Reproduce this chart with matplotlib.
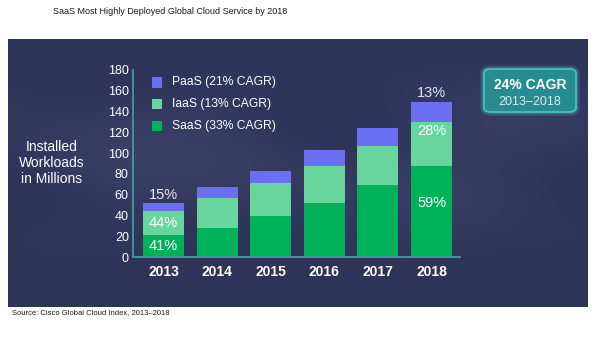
import numpy as np
import matplotlib.pyplot as plt
from matplotlib.patches import Rectangle, FancyBboxPatch

plt.rcParams['font.family'] = ['Liberation Sans', 'DejaVu Sans']

# Installed workloads (millions) per cloud service type
years = ['2013', '2014', '2015', '2016', '2017', '2018']
saas = [21.2, 28, 39, 52, 69, 88]
iaas = [22.8, 29, 32, 36, 38, 42]
paas = [7.8, 10, 12, 15, 17, 19.5]
series_names = ['SaaS (33% CAGR)', 'IaaS (13% CAGR)', 'PaaS (21% CAGR)']
colors = ['#00b159', '#68d69c', '#6b6ff2']
yticks = [0, 20, 40, 60, 80, 100, 120, 140, 160, 180]

W, H = 602, 346
fig = plt.figure(figsize=(W / 100, H / 100), dpi=100)
fig.patch.set_facecolor('white')

# dark panel behind the chart
panel = fig.add_axes([8 / W, 1 - 307 / H, 580 / W, 268 / H])
panel.set_xlim(0, 1)
panel.set_ylim(0, 1)
panel.axis('off')
gx, gy = np.meshgrid(np.linspace(0, 1, 300), np.linspace(0, 1, 150))
haze = (0.5 + 0.5 * np.sin(gx * 9 + gy * 4) * np.cos(gy * 7 - gx * 3)) * np.exp(-((gy - 0.55) ** 2) / 0.08)
base = np.array([0x2e, 0x33, 0x58]) / 255
light = np.array([0x3c, 0x41, 0x68]) / 255
img = base + (light - base) * haze[..., None]
panel.imshow(img, extent=[0, 1, 0, 1], aspect='auto', origin='lower')

ax = fig.add_axes([133 / W, 1 - 257 / H, 327 / W, 187 / H])
ax.patch.set_alpha(0)
x = np.arange(len(years))
bottom = np.zeros(len(years))
for vals, name, c in zip([saas, iaas, paas], series_names, colors):
    ax.bar(x, vals, width=0.765, bottom=bottom, color=c, label=name, zorder=2)
    bottom += np.array(vals)

ax.set_xlim(-0.57, 5.53)
ax.set_ylim(0, 180)
ax.set_xticks(x)
ax.set_xticklabels(years, fontsize=10, fontweight='bold', color='white')
ax.set_yticks(yticks)
ax.set_yticklabels([str(v) for v in yticks], fontsize=9, color='white')
ax.tick_params(length=0, pad=3)
ax.tick_params(axis='x', pad=6)
for side in ['top', 'right']:
    ax.spines[side].set_visible(False)
for side in ['left', 'bottom']:
    ax.spines[side].set_color('#3c9ea2')
    ax.spines[side].set_linewidth(1.3)

# share labels for first and last year
totals = np.array(saas) + np.array(iaas) + np.array(paas)
fs = 10.5
i = 0
ax.text(x[i], totals[i] + 1.5, f'{paas[i] / totals[i]:.0%}', ha='center', va='bottom', fontsize=fs, color='#e6e6ec')
ax.text(x[i], saas[i] + iaas[i] / 2, f'{iaas[i] / totals[i]:.0%}', ha='center', va='center', fontsize=fs, color='white')
ax.text(x[i], saas[i] / 2, f'{saas[i] / totals[i]:.0%}', ha='center', va='center', fontsize=fs, color='white')
i = 5
ax.text(x[i], totals[i] + 1.5, f'{paas[i] / totals[i]:.0%}', ha='center', va='bottom', fontsize=fs, color='#e6e6ec')
ax.text(x[i], saas[i] + iaas[i] - 9, f'{iaas[i] / totals[i]:.0%}', ha='center', va='center', fontsize=fs, color='white')
ax.text(x[i], saas[i] * 0.59, f'{saas[i] / totals[i]:.0%}', ha='center', va='center', fontsize=fs, color='white')

# legend, PaaS on top
for row, k in enumerate([2, 1, 0]):
    yc = 1 - (82.5 + row * 21.5) / H
    fig.patches.append(Rectangle((152 / W, yc - 5 / H), 10 / W, 10 / H, transform=fig.transFigure,
                                 facecolor=colors[k], edgecolor='none'))
    fig.text(172 / W, yc, series_names[k], fontsize=8.7, color='white', va='center', ha='left')

fig.text(52 / W, 1 - 163 / H, 'Installed\nWorkloads\nin Millions', fontsize=10, color='white',
         ha='center', va='center', linespacing=1.2)

# CAGR badge
for lw, a in [(6, 0.12), (3.5, 0.25)]:
    fig.patches.append(FancyBboxPatch((484 / W, 1 - 112 / H), 92 / W, 43 / H, transform=fig.transFigure,
                                      boxstyle='round,pad=0,rounding_size=0.012', facecolor='none',
                                      edgecolor='#4fd0d0', linewidth=lw, alpha=a))
fig.patches.append(FancyBboxPatch((484 / W, 1 - 112 / H), 92 / W, 43 / H, transform=fig.transFigure,
                                  boxstyle='round,pad=0,rounding_size=0.012', facecolor='#268c8f',
                                  edgecolor='#49c4c6', linewidth=1.2))
fig.text(530 / W, 1 - 85 / H, '24% CAGR', fontsize=10, fontweight='bold', color='white', ha='center', va='center')
fig.text(530 / W, 1 - 102 / H, '2013–2018', fontsize=9, color='#d8f0f0', ha='center', va='center')

fig.text(53 / W, 1 - 11 / H, 'SaaS Most Highly Deployed Global Cloud Service by 2018', fontsize=6.5,
         color='#1a1a1a', ha='left', va='center')
fig.text(12 / W, 1 - 313 / H, 'Source: Cisco Global Cloud Index, 2013–2018', fontsize=5.5,
         color='#1a1a1a', ha='left', va='center')

fig.savefig('out.png', dpi=100, facecolor='white')
